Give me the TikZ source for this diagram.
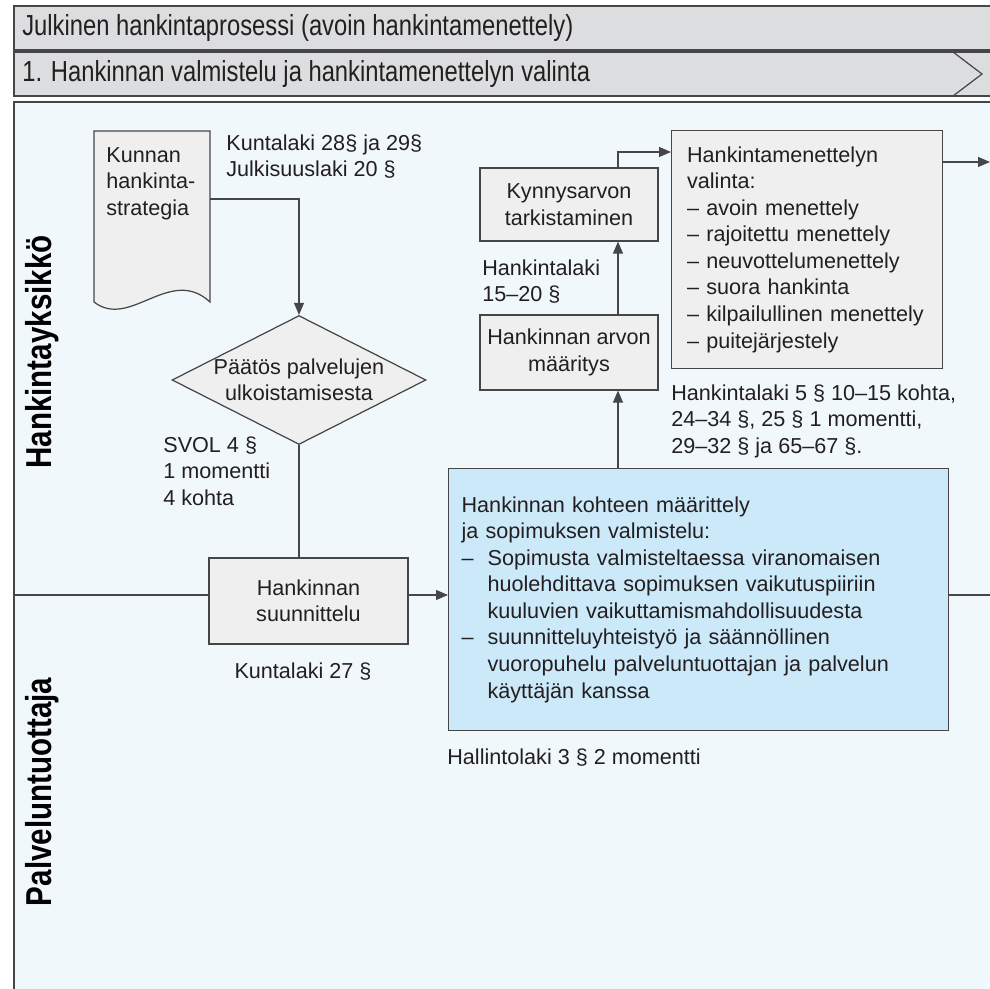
\documentclass[tikz,border=0pt]{standalone}
\usepackage{fontspec}
\setmainfont{Liberation Sans}
\newfontfamily\narrowfont[FakeStretch=0.82]{Liberation Sans}
\usepackage{tikz}
\usetikzlibrary{arrows.meta, positioning, shapes.geometric}
\usepackage{xcolor}
\definecolor{bargray}{RGB}{220, 221, 222}
\definecolor{panelblue}{RGB}{241, 248, 252}
\definecolor{boxgray}{RGB}{239, 239, 239}
\definecolor{kohdeblue}{RGB}{204, 233, 250}
\definecolor{framegray}{RGB}{70, 70, 72}
\definecolor{inkgray}{RGB}{35, 31, 32}

\begin{document}
\begin{tikzpicture}[x=0.02cm, y=-0.02cm, font=\fontsize{12.3}{15.1}\selectfont, text=inkgray,
    frame/.style={draw=framegray, line width=0.7pt},
    box/.style={frame, fill=boxgray, align=center, inner sep=0pt},
    kohdebox/.style={frame, fill=kohdeblue, align=left, inner xsep=0.26cm, text width=9.48cm, minimum width=10cm, minimum height=5.24cm, anchor=north west},
    decision/.style={frame, fill=boxgray, diamond, aspect=1.97, align=center, inner sep=-0.3cm, minimum width=5.08cm, minimum height=2.58cm},
    lawtext/.style={anchor=north west, align=left, inner sep=0pt},
    lane/.style={font=\narrowfont\bfseries\fontsize{20.5}{24}\selectfont, rotate=90, text=black},
    bartext/.style={anchor=west, inner sep=0pt, font=\narrowfont\fontsize{16.5}{19}\selectfont},
    line/.style={draw=framegray, line width=0.6pt},
    arr/.style={line, -{Triangle[length=0.24cm, width=0.2cm]}}]

    \useasboundingbox (0,0) rectangle (990,989);
    \fill[white] (0,0) rectangle (990,989);

    \fill[bargray] (14,6) rectangle (990,50);
    \draw[frame] (990,6) -- (14,6) -- (14,50) -- (990,50);
    \fill[bargray] (14,52) rectangle (990,96);
    \draw[frame] (990,52) -- (14,52) -- (14,96) -- (990,96);
    \draw[frame] (953,52) -- (982,74) -- (953,96);
    \node[bartext] (otsikko) at (22,28) {Julkinen hankintaprosessi (avoin hankintamenettely)};
    \node[bartext] (vaihe) at (22,74) {1. Hankinnan valmistelu ja hankintamenettelyn valinta};

    \fill[panelblue] (14,102) rectangle (990,989);
    \draw[frame] (14,989) -- (14,102) -- (990,102);
    \foreach \y/\name/\txt in {352/yksikko/Hankintayksikkö, 792/tuottaja/Palveluntuottaja}
        \node[lane] (\name) at (42,\y) {\txt};

    \filldraw[frame, fill=boxgray] (94,131) -- (210,131) -- (210,302)
        .. controls (170,265) and (130,330) .. (94,302) -- cycle;
    \node[lawtext] (strategia) at (106,147) {Kunnan\\hankinta-\\strategia};
    \coordinate (strategia-e) at (210,199);
    \node[lawtext] (laki-kunta) at (226,134) {Kuntalaki 28§ ja 29§\\Julkisuuslaki 20 §};

    \node[decision] (paatos) at (299,380) {Päätös palvelujen\\ulkoistamisesta};
    \node[lawtext] (laki-svol) at (163,436) {SVOL 4 §\\1 momentti\\4 kohta};

    \node[box, minimum width=3.98cm, minimum height=1.72cm] (suunn) at (308.5,601) {Hankinnan\\suunnittelu};
    \node[lawtext, anchor=north] (laki-27) at (303,662) {Kuntalaki 27 §};

    \node[kohdebox] (kohde) at (448,468) {Hankinnan kohteen määrittely\\
        ja sopimuksen valmistelu:\\
        \makebox[0.52cm][l]{–}Sopimusta valmisteltaessa viranomaisen\\
        \hspace*{0.52cm}huolehdittava sopimuksen vaikutuspiiriin\\
        \hspace*{0.52cm}kuuluvien vaikuttamismahdollisuudesta\\
        \makebox[0.52cm][l]{–}suunnitteluyhteistyö ja säännöllinen\\
        \hspace*{0.52cm}vuoropuhelu palveluntuottajan ja palvelun\\
        \hspace*{0.52cm}käyttäjän kanssa};
    \node[lawtext] (laki-hallinto) at (447,748) {Hallintolaki 3 § 2 momentti};

    \node[box, minimum width=3.56cm, minimum height=1.5cm] (arvo) at (569,352.5) {Hankinnan arvon\\määritys};
    \node[box, minimum width=3.56cm, minimum height=1.46cm] (kynnys) at (569,204.5) {Kynnysarvon\\tarkistaminen};
    \node[lawtext] (laki-15) at (482,259) {Hankintalaki\\15–20 §};

    \node[box, anchor=north west, align=left, inner xsep=0.31cm, text width=4.8cm, minimum width=5.42cm, minimum height=4.76cm] (valinta) at (671,130)
        {Hankintamenettelyn\\valinta:\\– avoin menettely\\– rajoitettu menettely\\– neuvottelumenettely\\– suora hankinta\\– kilpailullinen menettely\\– puitejärjestely};
    \node[lawtext] (laki-5) at (671,384) {Hankintalaki 5 § 10–15 kohta,\\24–34 §, 25 § 1 momentti,\\29–32 § ja 65–67 §.};

    \coordinate (lane-w) at (14,595);
    \coordinate (lane-e) at (990,595);
    \coordinate (nousu) at (618,0);
    \coordinate (ulos) at (990,162);

    \draw[arr] (strategia-e) -| (paatos.north);
    \draw[line] (paatos.south) -- (suunn.north -| paatos.south);
    \draw[line] (lane-w) -- (suunn.west |- lane-w);
    \draw[arr] (suunn.east |- lane-w) -- (kohde.west |- lane-w);
    \draw[line] (kohde.east |- lane-e) -- (lane-e);
    \draw[arr] (kohde.north -| nousu) -- (arvo.south -| nousu);
    \draw[arr] (arvo.north -| nousu) -- (kynnys.south -| nousu);
    \draw[arr] (kynnys.north -| nousu) |- (valinta.west |- 0,152);
    \draw[arr] (valinta.east |- ulos) -- (ulos);
\end{tikzpicture}
\end{document}
